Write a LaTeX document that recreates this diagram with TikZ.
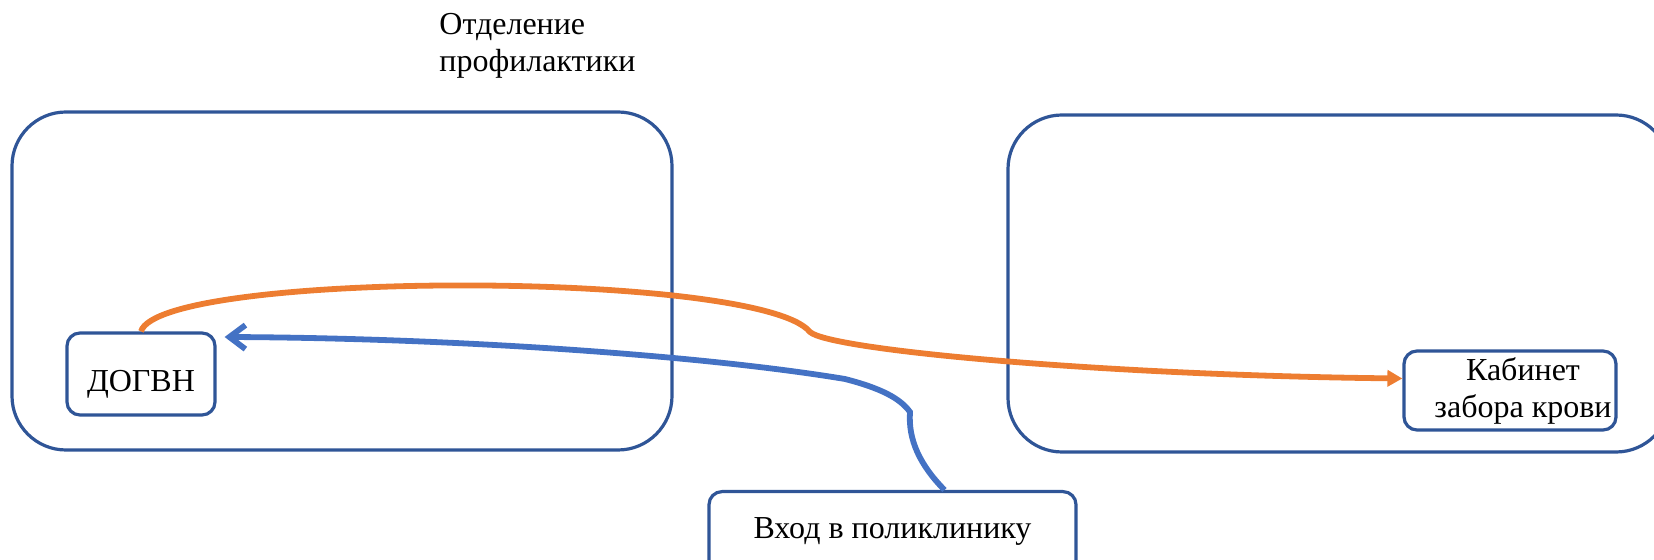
\documentclass[tikz,border=0pt]{standalone}
\usepackage{fontspec}
\setmainfont{Liberation Serif}
\usepackage{tikz}
\usetikzlibrary{calc, arrows.meta, shapes.misc, positioning}
\usepackage{xcolor}
\definecolor{frameblue}{HTML}{2F5597}
\definecolor{pathorange}{HTML}{ED7D31}
\definecolor{pathblue}{HTML}{4472C4}

\begin{document}
\begin{tikzpicture}[x=0.5pt,y=-0.5pt,auto,
        every node/.style={font=\fontsize{16}{18.5}\selectfont},
        dept/.style={draw=frameblue,line width=1.6pt,rounded corners=27pt,inner sep=0pt},
        route/.style={line width=2.9pt}]
        \tikzstyle{room}=[draw=frameblue,line width=1.6pt,rounded corners=6.5pt,align=center,inner sep=0pt]
        \useasboundingbox (0,0) rectangle (1654,560);
        \node[dept,minimum width=330pt,minimum height=169pt](prof) at (342,281){};
        \node[dept,minimum width=331pt,minimum height=168.5pt](lab) at (1339,283.5){};
        \node[align=left,anchor=north west,inner sep=0pt](proflabel) at (439,13){Отделение\\профилактики};
        \node[room,minimum width=74pt,minimum height=41pt,text height=18pt,text depth=0pt](dogvn) at (141,374){ДОГВН};
        \node[room,minimum width=106pt,minimum height=39.5pt](blood) at (1510,390.5){\hspace*{13pt}Кабинет\\\hspace*{13pt}забора крови};
        \node[room,minimum width=183.5pt,text height=23.5pt,text depth=20pt,anchor=north](entry) at (892.5,490){Вход в поликлинику};

        \draw[route,pathorange,-{Triangle[length=7.5pt,width=8pt]}] (dogvn.north)
          .. controls (160,270) and (760,270) .. (810,332)
          .. controls (830,350) and (1100,375) .. ($(blood.west)+(0,-12)$);
        \draw[route,pathblue,-{Straight Barb[length=8pt,width=12pt]}] ($(entry.north)+(52,0)$)
          .. controls (920,465) and (908,440) .. (910,412)
          .. controls (900,398) and (880,388) .. (845,379)
          .. controls (700,355) and (450,338) .. ($(dogvn.east)+(8,-37)$);
      \end{tikzpicture}
\end{document}
